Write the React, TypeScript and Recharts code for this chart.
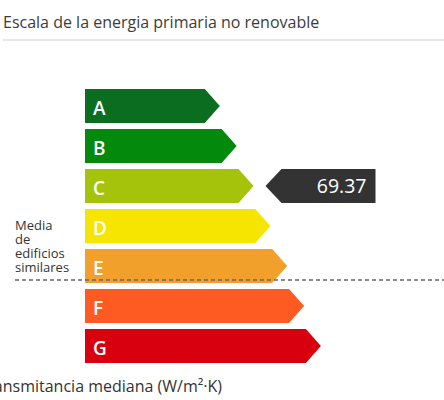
import React from 'react';
import { BarChart, Bar, XAxis, YAxis, LabelList } from 'recharts';

const categories = ['A', 'B', 'C', 'D', 'E', 'F', 'G'];
const barLengths = [8, 9, 10, 11, 12, 13, 14];
const colors = ['#0b6d20', '#038a0d', '#a5c30a', '#f6e500', '#f1a02b', '#fd5b22', '#d8000e'];
const indicatorCategory = 'C';
const indicatorValue = '69.37';
const mediaCategory = 'E';
const mediaLabel = ['Media', 'de', 'edificios', 'similares'];
const title = 'Escala de la energia primaria no renovable';
const footer = 'Transmitancia mediana (W/m²·K)';

const data = categories.map((name, i) => ({
  name,
  value: barLengths[i],
  color: colors[i],
  indicator: name === indicatorCategory ? indicatorValue : null,
  media: name === mediaCategory,
}));

const FONT = '"Open Sans", "Noto Sans", sans-serif';

const ArrowShape = (props: any) => {
  const { x, y, width, height, payload } = props;
  const tip = 15;
  const pts = [
    [x, y],
    [x + width - tip, y],
    [x + width, y + height / 2],
    [x + width - tip, y + height],
    [x, y + height],
  ]
    .map((p) => p.join(','))
    .join(' ');
  const parts: any[] = [<polygon key="bar" points={pts} fill={payload.color} />];
  if (payload.indicator) {
    const x0 = x + width + 12;
    const w = 110;
    const ipts = [
      [x0, y + height / 2],
      [x0 + 16, y],
      [x0 + w, y],
      [x0 + w, y + height],
      [x0 + 16, y + height],
    ]
      .map((p) => p.join(','))
      .join(' ');
    parts.push(<polygon key="ind" points={ipts} fill="#333333" />);
    parts.push(
      <text key="indt" x={x0 + w - 9} y={y + height / 2 + 7} textAnchor="end" fill="#ffffff" fontSize={19.5} fontWeight={500} fontFamily={FONT}>
        {payload.indicator}
      </text>
    );
  }
  if (payload.media) {
    const ly = y + height - 3;
    parts.push(
      <line key="ml" x1={15} x2={444} y1={ly} y2={ly} stroke="#666666" strokeWidth={1.5} strokeDasharray="4 3" />
    );
    mediaLabel.forEach((t, i) => {
      parts.push(
        <text key={'mt' + i} x={15} y={y - 19 + i * 14} fill="#333333" fontSize={13} fontFamily={FONT}>
          {t}
        </text>
      );
    });
  }
  return <g>{parts}</g>;
};

const LetterLabel = (props: any) => {
  const { x, y, height, value } = props;
  return (
    <text x={x + 8} y={y + height / 2 + 9} fill="#ffffff" fontSize={19} fontWeight={600} fontFamily={FONT}>
      {value}
    </text>
  );
};

export default function App() {
  return (
    <div style={{ position: 'absolute', left: 0, top: 0, width: 444, height: 400, background: '#fff', fontFamily: FONT }}>
      <svg width={444} height={400} style={{ position: 'absolute', left: 0, top: 0 }}>
        <text x={3} y={28} fontSize={16} fill="#3c3c3c" fontFamily={FONT}>
          {title}
        </text>
        <line x1={3} x2={444} y1={40} y2={40} stroke="#e8e8e8" strokeWidth={2} />
        <text x={222} y={392} textAnchor="end" fontSize={16} fill="#333333" fontFamily={FONT}>
          {footer}
        </text>
      </svg>
      <div style={{ position: 'absolute', left: 0, top: 0 }}>
        <BarChart
          width={444}
          height={400}
          data={data}
          layout="vertical"
          margin={{ top: 86, right: 22, bottom: 34, left: 85 }}
          style={{ fontFamily: FONT }}
        >
          <XAxis type="number" domain={[0, 20]} hide />
          <YAxis type="category" dataKey="name" hide />
          <Bar dataKey="value" barSize={34} isAnimationActive={false} shape={<ArrowShape />}>
            <LabelList dataKey="name" content={<LetterLabel />} />
          </Bar>
        </BarChart>
      </div>
    </div>
  );
}
